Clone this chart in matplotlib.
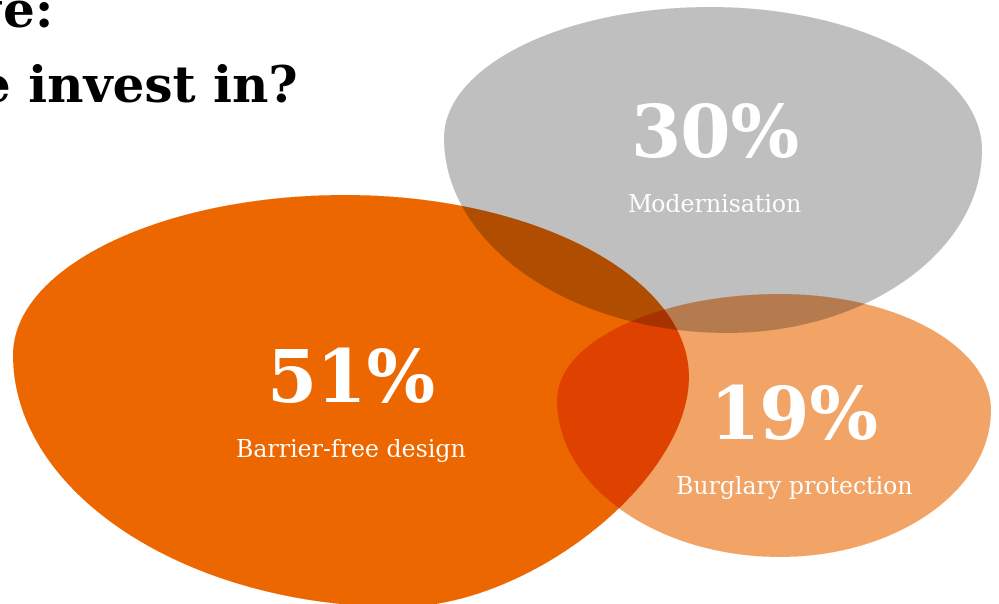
import numpy as np
import matplotlib
matplotlib.use("Agg")
import matplotlib.pyplot as plt
from matplotlib.path import Path

W, H = 999, 604

labels = ["Barrier-free design", "Modernisation", "Burglary protection"]
values = [51, 30, 19]
colors = ["#EC6800", "#BFBFBF", "#F2A468"]

# blob outlines in pixels: top, right, bottom, left anchors
blob_anchors = [
    [(345, 195), (689, 377), (400, 607), (13, 355)],
    [(710, 7), (982, 150), (727, 333), (444, 138)],
    [(780, 294), (991, 410), (780, 557), (557, 400)],
]
# handle length per quadrant (top->right, right->bottom, bottom->left, left->top)
blob_kappa = [
    [0.55, 0.45, 0.55, 0.55],
    [0.55, 0.55, 0.55, 0.55],
    [0.55, 0.55, 0.55, 0.55],
]
# label positions (number baseline centre)
label_pos = [(351, 402), (715, 157), (794, 439)]


def blob_polygon(anchors, kappa, n=200):
    pts = []
    for q in range(4):
        p0 = np.array(anchors[q], float)
        p3 = np.array(anchors[(q + 1) % 4], float)
        k = kappa[q]
        # top/bottom anchors have horizontal tangents, left/right vertical ones
        if q % 2 == 0:
            p1 = np.array([p0[0] + k * (p3[0] - p0[0]), p0[1]])
            p2 = np.array([p3[0], p3[1] + k * (p0[1] - p3[1])])
        else:
            p1 = np.array([p0[0], p0[1] + k * (p3[1] - p0[1])])
            p2 = np.array([p3[0] + k * (p0[0] - p3[0]), p3[1]])
        t = np.linspace(0, 1, n, endpoint=False)[:, None]
        seg = ((1 - t) ** 3 * p0 + 3 * (1 - t) ** 2 * t * p1
               + 3 * (1 - t) * t ** 2 * p2 + t ** 3 * p3)
        pts.append(seg)
    return np.vstack(pts)


# multiply-blend the blobs on a supersampled grid
ss = 3
xs = (np.arange(W * ss) + 0.5) / ss
ys = (np.arange(H * ss) + 0.5) / ss
gx, gy = np.meshgrid(xs, ys)
grid = np.column_stack([gx.ravel(), gy.ravel()])
img = np.ones((H * ss, W * ss, 3))
for anchors, kappa, col in zip(blob_anchors, blob_kappa, colors):
    poly = blob_polygon(anchors, kappa)
    mask = Path(poly).contains_points(grid).reshape(H * ss, W * ss)
    rgb = np.array(matplotlib.colors.to_rgb(col))
    img[mask] *= rgb
img = img.reshape(H, ss, W, ss, 3).mean(axis=(1, 3))

fig = plt.figure(figsize=(9.99, 6.04), dpi=100)
ax = fig.add_axes([0, 0, 1, 1])
ax.imshow(img, extent=(0, W, H, 0), interpolation="none")
ax.set_xlim(0, W)
ax.set_ylim(H, 0)
ax.axis("off")

serif = ["DejaVu Serif"]
for (x, y), lab, val in zip(label_pos, labels, values):
    ax.text(x, y, f"{val}%", color="white", fontsize=52, fontweight="bold",
            family=serif, ha="center", va="baseline")
    ax.text(x, y + 55, lab, color="white", fontsize=17, family=serif,
            ha="center", va="baseline")

# title runs off the left edge, as in the source layout
ax.text(53, 26, "challenge:", fontsize=36, fontweight="bold", family=serif,
        ha="right", va="baseline", color="black")
ax.text(298, 101, "What should we invest in?", fontsize=36, fontweight="bold",
        family=serif, ha="right", va="baseline", color="black")

fig.savefig("out.png", dpi=100)
